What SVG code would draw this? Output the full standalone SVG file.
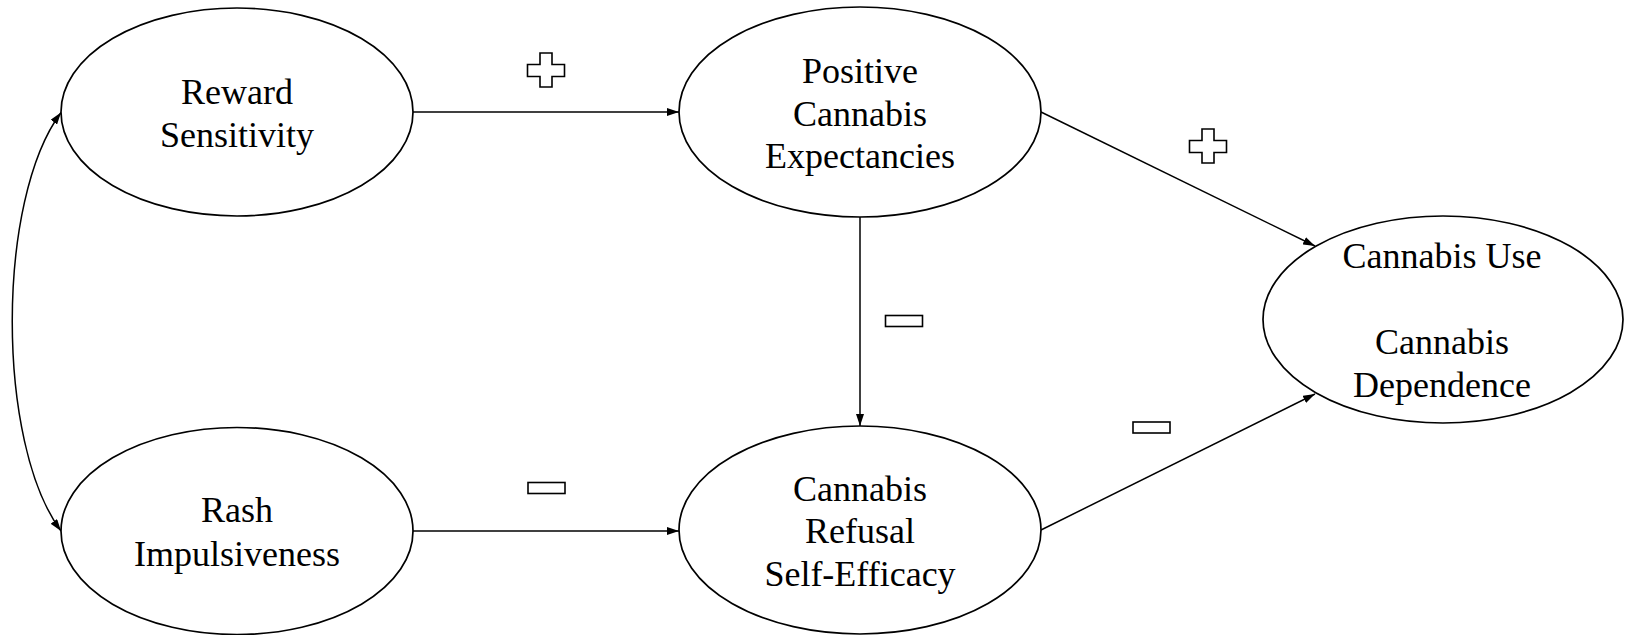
<svg xmlns="http://www.w3.org/2000/svg" width="1625" height="635" viewBox="0 0 1625 635">
<style>
.node ellipse{fill:#fff;stroke:#000;stroke-width:1.7}
.node text{font-family:"Liberation Serif","Times New Roman",serif;font-size:36px;fill:#000;text-anchor:middle}
.conn line,.conn path{fill:none;stroke:#000;stroke-width:1.5}
.sign{fill:#fff;stroke:#000;stroke-width:1.6}
</style>
<defs>
<marker id="arr" markerUnits="userSpaceOnUse" markerWidth="12" markerHeight="8" refX="12" refY="4" orient="auto-start-reverse" viewBox="0 0 12 8">
<path d="M0,0 L12,4 L0,8 Z" fill="#000"/>
</marker>
<path id="plus" d="M12.5,0 H24.5 V11.5 H37 V23.5 H24.5 V34 H12.5 V23.5 H0 V11.5 H12.5 Z"/>
</defs>
<rect width="1625" height="635" fill="#fff"/>
<g id="connectors" class="conn">
<line x1="413" y1="112" x2="679" y2="112" marker-end="url(#arr)"/>
<line x1="413" y1="531" x2="679" y2="531" marker-end="url(#arr)"/>
<line x1="860" y1="217" x2="860" y2="426" marker-end="url(#arr)"/>
<line x1="1041" y1="112" x2="1315" y2="246" marker-end="url(#arr)"/>
<line x1="1041" y1="530" x2="1315" y2="394" marker-end="url(#arr)"/>
<path d="M61,112.5 C-4,200 -4,443 61,531" marker-start="url(#arr)" marker-end="url(#arr)"/>
</g>
<g id="signs">
<use href="#plus" class="sign" transform="translate(527.5,53)"/>
<use href="#plus" class="sign" transform="translate(1189.5,129)"/>
<rect class="sign" x="528" y="482.5" width="37" height="11"/>
<rect class="sign" x="885.5" y="315.5" width="37" height="11"/>
<rect class="sign" x="1133" y="422" width="37" height="11"/>
</g>
<g id="reward" class="node">
<ellipse cx="237" cy="112" rx="176" ry="104"/>
<text x="237" y="103.5">Reward</text>
<text x="237" y="147">Sensitivity</text>
</g>
<g id="rash" class="node">
<ellipse cx="237" cy="531" rx="176" ry="103.5"/>
<text x="237" y="522">Rash</text>
<text x="237" y="565.5">Impulsiveness</text>
</g>
<g id="positive" class="node">
<ellipse cx="860" cy="112" rx="181" ry="105"/>
<text x="860" y="82.5">Positive</text>
<text x="860" y="125.5">Cannabis</text>
<text x="860" y="168">Expectancies</text>
</g>
<g id="refusal" class="node">
<ellipse cx="860" cy="530" rx="181" ry="104"/>
<text x="860" y="500.5">Cannabis</text>
<text x="860" y="543">Refusal</text>
<text x="860" y="586">Self-Efficacy</text>
</g>
<g id="outcome" class="node">
<ellipse cx="1443" cy="319.5" rx="180" ry="103.5"/>
<text x="1442" y="267.5">Cannabis Use</text>
<text x="1442" y="353.5">Cannabis</text>
<text x="1442" y="397">Dependence</text>
</g>
</svg>
